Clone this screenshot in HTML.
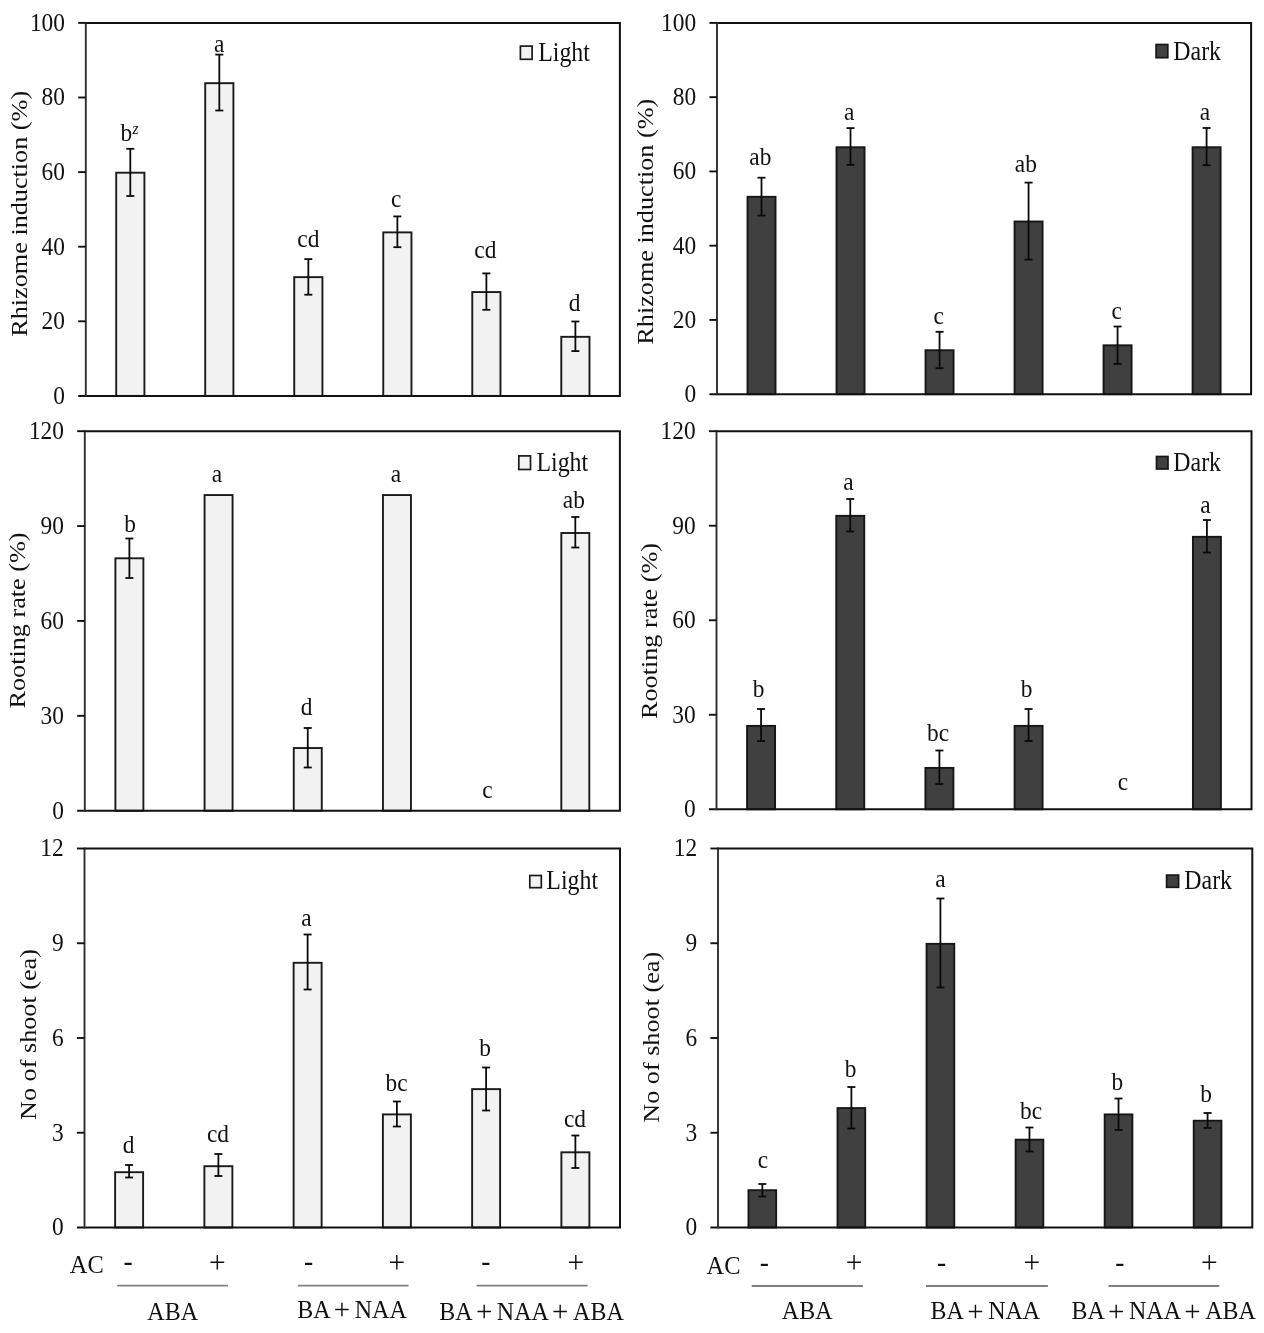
<!DOCTYPE html>
<html lang="en"><head><meta charset="utf-8"><title>Figure</title>
<style>
html,body{margin:0;padding:0;background:#fff;}
body{width:1264px;height:1333px;overflow:hidden;}
svg{display:block;will-change:transform;filter:grayscale(1);}
svg text{font-family:"Liberation Serif", "Times New Roman", serif;fill:#111;}
</style></head><body>
<svg width="1264" height="1333" viewBox="0 0 1264 1333">
<rect x="0" y="0" width="1264" height="1333" fill="#ffffff"/>
<rect x="116.21" y="172.70" width="28.20" height="223.20" fill="#f2f2f2" stroke="#1a1a1a" stroke-width="1.9"/>
<line x1="130.31" y1="148.80" x2="130.31" y2="196.00" stroke="#0a0a0a" stroke-width="1.8"/>
<line x1="126.31" y1="148.80" x2="134.31" y2="148.80" stroke="#0a0a0a" stroke-width="1.8"/>
<line x1="126.31" y1="196.00" x2="134.31" y2="196.00" stroke="#0a0a0a" stroke-width="1.8"/>
<rect x="205.22" y="83.18" width="28.20" height="312.72" fill="#f2f2f2" stroke="#1a1a1a" stroke-width="1.9"/>
<line x1="219.32" y1="54.60" x2="219.32" y2="110.50" stroke="#0a0a0a" stroke-width="1.8"/>
<line x1="215.32" y1="54.60" x2="223.32" y2="54.60" stroke="#0a0a0a" stroke-width="1.8"/>
<line x1="215.32" y1="110.50" x2="223.32" y2="110.50" stroke="#0a0a0a" stroke-width="1.8"/>
<rect x="294.24" y="277.14" width="28.20" height="118.76" fill="#f2f2f2" stroke="#1a1a1a" stroke-width="1.9"/>
<line x1="308.34" y1="259.10" x2="308.34" y2="294.70" stroke="#0a0a0a" stroke-width="1.8"/>
<line x1="304.34" y1="259.10" x2="312.34" y2="259.10" stroke="#0a0a0a" stroke-width="1.8"/>
<line x1="304.34" y1="294.70" x2="312.34" y2="294.70" stroke="#0a0a0a" stroke-width="1.8"/>
<rect x="383.26" y="232.38" width="28.20" height="163.52" fill="#f2f2f2" stroke="#1a1a1a" stroke-width="1.9"/>
<line x1="397.36" y1="216.40" x2="397.36" y2="247.20" stroke="#0a0a0a" stroke-width="1.8"/>
<line x1="393.36" y1="216.40" x2="401.36" y2="216.40" stroke="#0a0a0a" stroke-width="1.8"/>
<line x1="393.36" y1="247.20" x2="401.36" y2="247.20" stroke="#0a0a0a" stroke-width="1.8"/>
<rect x="472.27" y="292.06" width="28.20" height="103.84" fill="#f2f2f2" stroke="#1a1a1a" stroke-width="1.9"/>
<line x1="486.38" y1="273.40" x2="486.38" y2="309.80" stroke="#0a0a0a" stroke-width="1.8"/>
<line x1="482.38" y1="273.40" x2="490.38" y2="273.40" stroke="#0a0a0a" stroke-width="1.8"/>
<line x1="482.38" y1="309.80" x2="490.38" y2="309.80" stroke="#0a0a0a" stroke-width="1.8"/>
<rect x="561.29" y="336.82" width="28.20" height="59.08" fill="#f2f2f2" stroke="#1a1a1a" stroke-width="1.9"/>
<line x1="575.39" y1="321.50" x2="575.39" y2="351.10" stroke="#0a0a0a" stroke-width="1.8"/>
<line x1="571.39" y1="321.50" x2="579.39" y2="321.50" stroke="#0a0a0a" stroke-width="1.8"/>
<line x1="571.39" y1="351.10" x2="579.39" y2="351.10" stroke="#0a0a0a" stroke-width="1.8"/>
<path d="M85.80,22.90 H619.90 V395.90 H78.20" fill="none" stroke="#111" stroke-width="2.0" stroke-linejoin="miter"/>
<line x1="85.80" y1="21.90" x2="85.80" y2="396.90" stroke="#2e2e2e" stroke-width="1.9"/>
<text transform="translate(65.00,403.80) scale(1,1.11)" text-anchor="end" font-size="23.4">0</text>
<line x1="78.20" y1="321.30" x2="85.80" y2="321.30" stroke="#111" stroke-width="1.9"/>
<text transform="translate(65.00,329.20) scale(1,1.11)" text-anchor="end" font-size="23.4">20</text>
<line x1="78.20" y1="246.70" x2="85.80" y2="246.70" stroke="#111" stroke-width="1.9"/>
<text transform="translate(65.00,254.60) scale(1,1.11)" text-anchor="end" font-size="23.4">40</text>
<line x1="78.20" y1="172.10" x2="85.80" y2="172.10" stroke="#111" stroke-width="1.9"/>
<text transform="translate(65.00,180.00) scale(1,1.11)" text-anchor="end" font-size="23.4">60</text>
<line x1="78.20" y1="97.50" x2="85.80" y2="97.50" stroke="#111" stroke-width="1.9"/>
<text transform="translate(65.00,105.40) scale(1,1.11)" text-anchor="end" font-size="23.4">80</text>
<line x1="78.20" y1="22.90" x2="85.80" y2="22.90" stroke="#111" stroke-width="1.9"/>
<text transform="translate(65.00,30.80) scale(1,1.11)" text-anchor="end" font-size="23.4">100</text>
<text transform="translate(27.00,213.80) rotate(-90) scale(1.12,1)" text-anchor="middle" font-size="23.4">Rhizome induction (%)</text>
<rect x="520.40" y="46.10" width="11.70" height="13.20" fill="#f2f2f2" stroke="#1a1a1a" stroke-width="1.7"/>
<text transform="translate(538.20,60.90) scale(1,1.11)" text-anchor="start" font-size="23.9">Light</text>
<text transform="translate(120.40,141.00) scale(1,1.11)" text-anchor="start" font-size="23.4">b<tspan font-size="15.5" font-style="italic" dy="-6.5" dx="0.3">z</tspan></text>
<text transform="translate(219.30,52.00) scale(1,1.11)" text-anchor="middle" font-size="23.4">a</text>
<text transform="translate(308.30,246.50) scale(1,1.11)" text-anchor="middle" font-size="23.4">cd</text>
<text transform="translate(396.20,207.20) scale(1,1.11)" text-anchor="middle" font-size="23.4">c</text>
<text transform="translate(485.30,257.90) scale(1,1.11)" text-anchor="middle" font-size="23.4">cd</text>
<text transform="translate(574.50,311.10) scale(1,1.11)" text-anchor="middle" font-size="23.4">d</text>
<rect x="747.51" y="196.79" width="28.00" height="197.41" fill="#404040" stroke="#161616" stroke-width="1.9"/>
<line x1="761.51" y1="177.70" x2="761.51" y2="215.60" stroke="#0a0a0a" stroke-width="1.8"/>
<line x1="757.51" y1="177.70" x2="765.51" y2="177.70" stroke="#0a0a0a" stroke-width="1.8"/>
<line x1="757.51" y1="215.60" x2="765.51" y2="215.60" stroke="#0a0a0a" stroke-width="1.8"/>
<rect x="836.52" y="147.25" width="28.00" height="246.95" fill="#404040" stroke="#161616" stroke-width="1.9"/>
<line x1="850.52" y1="128.10" x2="850.52" y2="164.90" stroke="#0a0a0a" stroke-width="1.8"/>
<line x1="846.52" y1="128.10" x2="854.52" y2="128.10" stroke="#0a0a0a" stroke-width="1.8"/>
<line x1="846.52" y1="164.90" x2="854.52" y2="164.90" stroke="#0a0a0a" stroke-width="1.8"/>
<rect x="925.54" y="350.24" width="28.00" height="43.96" fill="#404040" stroke="#161616" stroke-width="1.9"/>
<line x1="939.54" y1="331.80" x2="939.54" y2="368.20" stroke="#0a0a0a" stroke-width="1.8"/>
<line x1="935.54" y1="331.80" x2="943.54" y2="331.80" stroke="#0a0a0a" stroke-width="1.8"/>
<line x1="935.54" y1="368.20" x2="943.54" y2="368.20" stroke="#0a0a0a" stroke-width="1.8"/>
<rect x="1014.56" y="221.51" width="28.00" height="172.69" fill="#404040" stroke="#161616" stroke-width="1.9"/>
<line x1="1028.56" y1="182.60" x2="1028.56" y2="259.60" stroke="#0a0a0a" stroke-width="1.8"/>
<line x1="1024.56" y1="182.60" x2="1032.56" y2="182.60" stroke="#0a0a0a" stroke-width="1.8"/>
<line x1="1024.56" y1="259.60" x2="1032.56" y2="259.60" stroke="#0a0a0a" stroke-width="1.8"/>
<rect x="1103.57" y="345.31" width="28.00" height="48.89" fill="#404040" stroke="#161616" stroke-width="1.9"/>
<line x1="1117.57" y1="326.50" x2="1117.57" y2="363.90" stroke="#0a0a0a" stroke-width="1.8"/>
<line x1="1113.57" y1="326.50" x2="1121.57" y2="326.50" stroke="#0a0a0a" stroke-width="1.8"/>
<line x1="1113.57" y1="363.90" x2="1121.57" y2="363.90" stroke="#0a0a0a" stroke-width="1.8"/>
<rect x="1192.59" y="147.25" width="28.00" height="246.95" fill="#404040" stroke="#161616" stroke-width="1.9"/>
<line x1="1206.59" y1="128.00" x2="1206.59" y2="165.20" stroke="#0a0a0a" stroke-width="1.8"/>
<line x1="1202.59" y1="128.00" x2="1210.59" y2="128.00" stroke="#0a0a0a" stroke-width="1.8"/>
<line x1="1202.59" y1="165.20" x2="1210.59" y2="165.20" stroke="#0a0a0a" stroke-width="1.8"/>
<path d="M717.00,22.90 H1251.10 V394.20 H709.40" fill="none" stroke="#111" stroke-width="2.0" stroke-linejoin="miter"/>
<line x1="717.00" y1="21.90" x2="717.00" y2="395.20" stroke="#2e2e2e" stroke-width="1.9"/>
<text transform="translate(696.20,402.10) scale(1,1.11)" text-anchor="end" font-size="23.4">0</text>
<line x1="709.40" y1="319.94" x2="717.00" y2="319.94" stroke="#111" stroke-width="1.9"/>
<text transform="translate(696.20,327.84) scale(1,1.11)" text-anchor="end" font-size="23.4">20</text>
<line x1="709.40" y1="245.68" x2="717.00" y2="245.68" stroke="#111" stroke-width="1.9"/>
<text transform="translate(696.20,253.58) scale(1,1.11)" text-anchor="end" font-size="23.4">40</text>
<line x1="709.40" y1="171.42" x2="717.00" y2="171.42" stroke="#111" stroke-width="1.9"/>
<text transform="translate(696.20,179.32) scale(1,1.11)" text-anchor="end" font-size="23.4">60</text>
<line x1="709.40" y1="97.16" x2="717.00" y2="97.16" stroke="#111" stroke-width="1.9"/>
<text transform="translate(696.20,105.06) scale(1,1.11)" text-anchor="end" font-size="23.4">80</text>
<line x1="709.40" y1="22.90" x2="717.00" y2="22.90" stroke="#111" stroke-width="1.9"/>
<text transform="translate(696.20,30.80) scale(1,1.11)" text-anchor="end" font-size="23.4">100</text>
<text transform="translate(653.00,221.70) rotate(-90) scale(1.12,1)" text-anchor="middle" font-size="23.4">Rhizome induction (%)</text>
<rect x="1156.10" y="44.50" width="11.70" height="13.20" fill="#404040" stroke="#161616" stroke-width="1.7"/>
<text transform="translate(1173.30,59.50) scale(1,1.11)" text-anchor="start" font-size="23.9">Dark</text>
<text transform="translate(760.30,164.70) scale(1,1.11)" text-anchor="middle" font-size="23.4">ab</text>
<text transform="translate(849.20,120.00) scale(1,1.11)" text-anchor="middle" font-size="23.4">a</text>
<text transform="translate(938.60,323.70) scale(1,1.11)" text-anchor="middle" font-size="23.4">c</text>
<text transform="translate(1025.80,171.80) scale(1,1.11)" text-anchor="middle" font-size="23.4">ab</text>
<text transform="translate(1116.80,318.80) scale(1,1.11)" text-anchor="middle" font-size="23.4">c</text>
<text transform="translate(1205.00,120.30) scale(1,1.11)" text-anchor="middle" font-size="23.4">a</text>
<rect x="115.39" y="558.30" width="28.00" height="252.40" fill="#f2f2f2" stroke="#1a1a1a" stroke-width="1.9"/>
<line x1="129.39" y1="538.50" x2="129.39" y2="578.00" stroke="#0a0a0a" stroke-width="1.8"/>
<line x1="125.39" y1="538.50" x2="133.39" y2="538.50" stroke="#0a0a0a" stroke-width="1.8"/>
<line x1="125.39" y1="578.00" x2="133.39" y2="578.00" stroke="#0a0a0a" stroke-width="1.8"/>
<rect x="204.57" y="495.05" width="28.00" height="315.65" fill="#f2f2f2" stroke="#1a1a1a" stroke-width="1.9"/>
<rect x="293.76" y="748.05" width="28.00" height="62.65" fill="#f2f2f2" stroke="#1a1a1a" stroke-width="1.9"/>
<line x1="307.76" y1="728.00" x2="307.76" y2="767.50" stroke="#0a0a0a" stroke-width="1.8"/>
<line x1="303.76" y1="728.00" x2="311.76" y2="728.00" stroke="#0a0a0a" stroke-width="1.8"/>
<line x1="303.76" y1="767.50" x2="311.76" y2="767.50" stroke="#0a0a0a" stroke-width="1.8"/>
<rect x="382.94" y="495.05" width="28.00" height="315.65" fill="#f2f2f2" stroke="#1a1a1a" stroke-width="1.9"/>
<rect x="561.31" y="533.00" width="28.00" height="277.70" fill="#f2f2f2" stroke="#1a1a1a" stroke-width="1.9"/>
<line x1="575.31" y1="517.00" x2="575.31" y2="547.50" stroke="#0a0a0a" stroke-width="1.8"/>
<line x1="571.31" y1="517.00" x2="579.31" y2="517.00" stroke="#0a0a0a" stroke-width="1.8"/>
<line x1="571.31" y1="547.50" x2="579.31" y2="547.50" stroke="#0a0a0a" stroke-width="1.8"/>
<path d="M84.80,431.20 H619.90 V810.70 H77.20" fill="none" stroke="#111" stroke-width="2.0" stroke-linejoin="miter"/>
<line x1="84.80" y1="430.20" x2="84.80" y2="811.70" stroke="#2e2e2e" stroke-width="1.9"/>
<text transform="translate(64.00,818.60) scale(1,1.11)" text-anchor="end" font-size="23.4">0</text>
<line x1="77.20" y1="715.83" x2="84.80" y2="715.83" stroke="#111" stroke-width="1.9"/>
<text transform="translate(64.00,723.73) scale(1,1.11)" text-anchor="end" font-size="23.4">30</text>
<line x1="77.20" y1="620.95" x2="84.80" y2="620.95" stroke="#111" stroke-width="1.9"/>
<text transform="translate(64.00,628.85) scale(1,1.11)" text-anchor="end" font-size="23.4">60</text>
<line x1="77.20" y1="526.08" x2="84.80" y2="526.08" stroke="#111" stroke-width="1.9"/>
<text transform="translate(64.00,533.98) scale(1,1.11)" text-anchor="end" font-size="23.4">90</text>
<line x1="77.20" y1="431.20" x2="84.80" y2="431.20" stroke="#111" stroke-width="1.9"/>
<text transform="translate(64.00,439.10) scale(1,1.11)" text-anchor="end" font-size="23.4">120</text>
<text transform="translate(25.30,620.50) rotate(-90) scale(1.12,1)" text-anchor="middle" font-size="23.4">Rooting rate (%)</text>
<rect x="518.80" y="455.90" width="11.70" height="13.60" fill="#f2f2f2" stroke="#1a1a1a" stroke-width="1.7"/>
<text transform="translate(536.40,470.90) scale(1,1.11)" text-anchor="start" font-size="23.9">Light</text>
<text transform="translate(130.20,531.90) scale(1,1.11)" text-anchor="middle" font-size="23.4">b</text>
<text transform="translate(217.00,481.50) scale(1,1.11)" text-anchor="middle" font-size="23.4">a</text>
<text transform="translate(306.50,715.00) scale(1,1.11)" text-anchor="middle" font-size="23.4">d</text>
<text transform="translate(396.00,481.50) scale(1,1.11)" text-anchor="middle" font-size="23.4">a</text>
<text transform="translate(487.50,797.50) scale(1,1.11)" text-anchor="middle" font-size="23.4">c</text>
<text transform="translate(573.80,508.20) scale(1,1.11)" text-anchor="middle" font-size="23.4">ab</text>
<rect x="747.08" y="725.87" width="28.00" height="83.43" fill="#404040" stroke="#161616" stroke-width="1.9"/>
<line x1="761.08" y1="709.00" x2="761.08" y2="741.00" stroke="#0a0a0a" stroke-width="1.8"/>
<line x1="757.08" y1="709.00" x2="765.08" y2="709.00" stroke="#0a0a0a" stroke-width="1.8"/>
<line x1="757.08" y1="741.00" x2="765.08" y2="741.00" stroke="#0a0a0a" stroke-width="1.8"/>
<rect x="836.25" y="515.83" width="28.00" height="293.47" fill="#404040" stroke="#161616" stroke-width="1.9"/>
<line x1="850.25" y1="499.00" x2="850.25" y2="531.50" stroke="#0a0a0a" stroke-width="1.8"/>
<line x1="846.25" y1="499.00" x2="854.25" y2="499.00" stroke="#0a0a0a" stroke-width="1.8"/>
<line x1="846.25" y1="531.50" x2="854.25" y2="531.50" stroke="#0a0a0a" stroke-width="1.8"/>
<rect x="925.42" y="767.90" width="28.00" height="41.40" fill="#404040" stroke="#161616" stroke-width="1.9"/>
<line x1="939.42" y1="750.50" x2="939.42" y2="784.00" stroke="#0a0a0a" stroke-width="1.8"/>
<line x1="935.42" y1="750.50" x2="943.42" y2="750.50" stroke="#0a0a0a" stroke-width="1.8"/>
<line x1="935.42" y1="784.00" x2="943.42" y2="784.00" stroke="#0a0a0a" stroke-width="1.8"/>
<rect x="1014.58" y="725.87" width="28.00" height="83.43" fill="#404040" stroke="#161616" stroke-width="1.9"/>
<line x1="1028.58" y1="709.00" x2="1028.58" y2="741.00" stroke="#0a0a0a" stroke-width="1.8"/>
<line x1="1024.58" y1="709.00" x2="1032.58" y2="709.00" stroke="#0a0a0a" stroke-width="1.8"/>
<line x1="1024.58" y1="741.00" x2="1032.58" y2="741.00" stroke="#0a0a0a" stroke-width="1.8"/>
<rect x="1192.92" y="536.82" width="28.00" height="272.48" fill="#404040" stroke="#161616" stroke-width="1.9"/>
<line x1="1206.92" y1="520.00" x2="1206.92" y2="552.50" stroke="#0a0a0a" stroke-width="1.8"/>
<line x1="1202.92" y1="520.00" x2="1210.92" y2="520.00" stroke="#0a0a0a" stroke-width="1.8"/>
<line x1="1202.92" y1="552.50" x2="1210.92" y2="552.50" stroke="#0a0a0a" stroke-width="1.8"/>
<path d="M716.50,431.20 H1251.50 V809.30 H708.90" fill="none" stroke="#111" stroke-width="2.0" stroke-linejoin="miter"/>
<line x1="716.50" y1="430.20" x2="716.50" y2="810.30" stroke="#2e2e2e" stroke-width="1.9"/>
<text transform="translate(695.70,817.20) scale(1,1.11)" text-anchor="end" font-size="23.4">0</text>
<line x1="708.90" y1="714.77" x2="716.50" y2="714.77" stroke="#111" stroke-width="1.9"/>
<text transform="translate(695.70,722.67) scale(1,1.11)" text-anchor="end" font-size="23.4">30</text>
<line x1="708.90" y1="620.25" x2="716.50" y2="620.25" stroke="#111" stroke-width="1.9"/>
<text transform="translate(695.70,628.15) scale(1,1.11)" text-anchor="end" font-size="23.4">60</text>
<line x1="708.90" y1="525.72" x2="716.50" y2="525.72" stroke="#111" stroke-width="1.9"/>
<text transform="translate(695.70,533.62) scale(1,1.11)" text-anchor="end" font-size="23.4">90</text>
<line x1="708.90" y1="431.20" x2="716.50" y2="431.20" stroke="#111" stroke-width="1.9"/>
<text transform="translate(695.70,439.10) scale(1,1.11)" text-anchor="end" font-size="23.4">120</text>
<text transform="translate(656.90,631.00) rotate(-90) scale(1.12,1)" text-anchor="middle" font-size="23.4">Rooting rate (%)</text>
<rect x="1156.50" y="456.50" width="11.50" height="12.50" fill="#404040" stroke="#161616" stroke-width="1.7"/>
<text transform="translate(1173.30,470.70) scale(1,1.11)" text-anchor="start" font-size="23.9">Dark</text>
<text transform="translate(758.50,697.00) scale(1,1.11)" text-anchor="middle" font-size="23.4">b</text>
<text transform="translate(848.50,489.50) scale(1,1.11)" text-anchor="middle" font-size="23.4">a</text>
<text transform="translate(938.00,740.50) scale(1,1.11)" text-anchor="middle" font-size="23.4">bc</text>
<text transform="translate(1026.50,697.00) scale(1,1.11)" text-anchor="middle" font-size="23.4">b</text>
<text transform="translate(1123.00,789.50) scale(1,1.11)" text-anchor="middle" font-size="23.4">c</text>
<text transform="translate(1205.50,513.00) scale(1,1.11)" text-anchor="middle" font-size="23.4">a</text>
<rect x="115.12" y="1172.20" width="28.00" height="55.30" fill="#f2f2f2" stroke="#1a1a1a" stroke-width="1.9"/>
<line x1="129.12" y1="1165.00" x2="129.12" y2="1177.50" stroke="#0a0a0a" stroke-width="1.8"/>
<line x1="125.12" y1="1165.00" x2="133.12" y2="1165.00" stroke="#0a0a0a" stroke-width="1.8"/>
<line x1="125.12" y1="1177.50" x2="133.12" y2="1177.50" stroke="#0a0a0a" stroke-width="1.8"/>
<rect x="204.38" y="1166.20" width="28.00" height="61.30" fill="#f2f2f2" stroke="#1a1a1a" stroke-width="1.9"/>
<line x1="218.38" y1="1154.00" x2="218.38" y2="1176.00" stroke="#0a0a0a" stroke-width="1.8"/>
<line x1="214.38" y1="1154.00" x2="222.38" y2="1154.00" stroke="#0a0a0a" stroke-width="1.8"/>
<line x1="214.38" y1="1176.00" x2="222.38" y2="1176.00" stroke="#0a0a0a" stroke-width="1.8"/>
<rect x="293.62" y="962.80" width="28.00" height="264.70" fill="#f2f2f2" stroke="#1a1a1a" stroke-width="1.9"/>
<line x1="307.62" y1="934.50" x2="307.62" y2="989.50" stroke="#0a0a0a" stroke-width="1.8"/>
<line x1="303.62" y1="934.50" x2="311.62" y2="934.50" stroke="#0a0a0a" stroke-width="1.8"/>
<line x1="303.62" y1="989.50" x2="311.62" y2="989.50" stroke="#0a0a0a" stroke-width="1.8"/>
<rect x="382.88" y="1114.40" width="28.00" height="113.10" fill="#f2f2f2" stroke="#1a1a1a" stroke-width="1.9"/>
<line x1="396.88" y1="1101.50" x2="396.88" y2="1126.50" stroke="#0a0a0a" stroke-width="1.8"/>
<line x1="392.88" y1="1101.50" x2="400.88" y2="1101.50" stroke="#0a0a0a" stroke-width="1.8"/>
<line x1="392.88" y1="1126.50" x2="400.88" y2="1126.50" stroke="#0a0a0a" stroke-width="1.8"/>
<rect x="472.12" y="1089.13" width="28.00" height="138.37" fill="#f2f2f2" stroke="#1a1a1a" stroke-width="1.9"/>
<line x1="486.12" y1="1067.50" x2="486.12" y2="1110.50" stroke="#0a0a0a" stroke-width="1.8"/>
<line x1="482.12" y1="1067.50" x2="490.12" y2="1067.50" stroke="#0a0a0a" stroke-width="1.8"/>
<line x1="482.12" y1="1110.50" x2="490.12" y2="1110.50" stroke="#0a0a0a" stroke-width="1.8"/>
<rect x="561.38" y="1152.30" width="28.00" height="75.20" fill="#f2f2f2" stroke="#1a1a1a" stroke-width="1.9"/>
<line x1="575.38" y1="1135.50" x2="575.38" y2="1168.00" stroke="#0a0a0a" stroke-width="1.8"/>
<line x1="571.38" y1="1135.50" x2="579.38" y2="1135.50" stroke="#0a0a0a" stroke-width="1.8"/>
<line x1="571.38" y1="1168.00" x2="579.38" y2="1168.00" stroke="#0a0a0a" stroke-width="1.8"/>
<path d="M84.50,848.50 H620.00 V1227.50 H76.90" fill="none" stroke="#111" stroke-width="2.0" stroke-linejoin="miter"/>
<line x1="84.50" y1="847.50" x2="84.50" y2="1228.50" stroke="#2e2e2e" stroke-width="1.9"/>
<text transform="translate(63.70,1235.40) scale(1,1.11)" text-anchor="end" font-size="23.4">0</text>
<line x1="76.90" y1="1132.75" x2="84.50" y2="1132.75" stroke="#111" stroke-width="1.9"/>
<text transform="translate(63.70,1140.65) scale(1,1.11)" text-anchor="end" font-size="23.4">3</text>
<line x1="76.90" y1="1038.00" x2="84.50" y2="1038.00" stroke="#111" stroke-width="1.9"/>
<text transform="translate(63.70,1045.90) scale(1,1.11)" text-anchor="end" font-size="23.4">6</text>
<line x1="76.90" y1="943.25" x2="84.50" y2="943.25" stroke="#111" stroke-width="1.9"/>
<text transform="translate(63.70,951.15) scale(1,1.11)" text-anchor="end" font-size="23.4">9</text>
<line x1="76.90" y1="848.50" x2="84.50" y2="848.50" stroke="#111" stroke-width="1.9"/>
<text transform="translate(63.70,856.40) scale(1,1.11)" text-anchor="end" font-size="23.4">12</text>
<text transform="translate(36.00,1034.50) rotate(-90) scale(1.12,1)" text-anchor="middle" font-size="23.4">No of shoot (ea)</text>
<rect x="529.80" y="875.50" width="11.50" height="12.20" fill="#f2f2f2" stroke="#1a1a1a" stroke-width="1.7"/>
<text transform="translate(546.30,888.60) scale(1,1.11)" text-anchor="start" font-size="23.9">Light</text>
<text transform="translate(128.50,1153.30) scale(1,1.11)" text-anchor="middle" font-size="23.4">d</text>
<text transform="translate(218.00,1142.30) scale(1,1.11)" text-anchor="middle" font-size="23.4">cd</text>
<text transform="translate(306.50,925.80) scale(1,1.11)" text-anchor="middle" font-size="23.4">a</text>
<text transform="translate(396.50,1090.80) scale(1,1.11)" text-anchor="middle" font-size="23.4">bc</text>
<text transform="translate(485.00,1055.80) scale(1,1.11)" text-anchor="middle" font-size="23.4">b</text>
<text transform="translate(575.00,1127.30) scale(1,1.11)" text-anchor="middle" font-size="23.4">cd</text>
<text transform="translate(69.80,1272.50) scale(1,1.05)" text-anchor="start" font-size="24.4">AC</text>
<text transform="translate(128.10,1271.30) scale(1,1.07)" text-anchor="middle" font-size="27.5" fill="#222">-</text>
<text transform="translate(217.30,1272.90) scale(1,1.07)" text-anchor="middle" font-size="29.5" fill="#2a2a2a">+</text>
<text transform="translate(308.60,1271.30) scale(1,1.07)" text-anchor="middle" font-size="27.5" fill="#222">-</text>
<text transform="translate(396.80,1272.90) scale(1,1.07)" text-anchor="middle" font-size="29.5" fill="#2a2a2a">+</text>
<text transform="translate(485.80,1271.30) scale(1,1.07)" text-anchor="middle" font-size="27.5" fill="#222">-</text>
<text transform="translate(575.90,1272.90) scale(1,1.07)" text-anchor="middle" font-size="29.5" fill="#2a2a2a">+</text>
<line x1="117.20" y1="1285.70" x2="227.90" y2="1285.70" stroke="#808080" stroke-width="1.8"/>
<line x1="297.90" y1="1285.70" x2="408.50" y2="1285.70" stroke="#808080" stroke-width="1.8"/>
<line x1="476.50" y1="1285.70" x2="587.60" y2="1285.70" stroke="#808080" stroke-width="1.8"/>
<text transform="translate(172.70,1320.00) scale(1,1.03)" text-anchor="middle" font-size="24.0">ABA</text>
<text transform="translate(352.00,1317.60) scale(1,1.03)" text-anchor="middle" font-size="24.0">BA <tspan font-size="29" dx="-1.4" dy="1.4">+</tspan><tspan dx="-1.4" dy="-1.4"> </tspan>NAA</text>
<text transform="translate(531.50,1319.60) scale(1,1.03)" text-anchor="middle" font-size="24.0">BA <tspan font-size="29" dx="-1.4" dy="1.4">+</tspan><tspan dx="-1.4" dy="-1.4"> </tspan>NAA <tspan font-size="29" dx="-1.4" dy="1.4">+</tspan><tspan dx="-1.4" dy="-1.4"> </tspan>ABA</text>
<rect x="748.47" y="1190.20" width="27.70" height="37.30" fill="#404040" stroke="#161616" stroke-width="1.9"/>
<line x1="762.32" y1="1184.00" x2="762.32" y2="1196.50" stroke="#0a0a0a" stroke-width="1.8"/>
<line x1="758.32" y1="1184.00" x2="766.32" y2="1184.00" stroke="#0a0a0a" stroke-width="1.8"/>
<line x1="758.32" y1="1196.50" x2="766.32" y2="1196.50" stroke="#0a0a0a" stroke-width="1.8"/>
<rect x="837.52" y="1108.08" width="27.70" height="119.42" fill="#404040" stroke="#161616" stroke-width="1.9"/>
<line x1="851.38" y1="1087.00" x2="851.38" y2="1128.50" stroke="#0a0a0a" stroke-width="1.8"/>
<line x1="847.38" y1="1087.00" x2="855.38" y2="1087.00" stroke="#0a0a0a" stroke-width="1.8"/>
<line x1="847.38" y1="1128.50" x2="855.38" y2="1128.50" stroke="#0a0a0a" stroke-width="1.8"/>
<rect x="926.57" y="943.85" width="27.70" height="283.65" fill="#404040" stroke="#161616" stroke-width="1.9"/>
<line x1="940.42" y1="898.50" x2="940.42" y2="987.50" stroke="#0a0a0a" stroke-width="1.8"/>
<line x1="936.42" y1="898.50" x2="944.42" y2="898.50" stroke="#0a0a0a" stroke-width="1.8"/>
<line x1="936.42" y1="987.50" x2="944.42" y2="987.50" stroke="#0a0a0a" stroke-width="1.8"/>
<rect x="1015.62" y="1139.67" width="27.70" height="87.83" fill="#404040" stroke="#161616" stroke-width="1.9"/>
<line x1="1029.47" y1="1127.50" x2="1029.47" y2="1151.50" stroke="#0a0a0a" stroke-width="1.8"/>
<line x1="1025.47" y1="1127.50" x2="1033.47" y2="1127.50" stroke="#0a0a0a" stroke-width="1.8"/>
<line x1="1025.47" y1="1151.50" x2="1033.47" y2="1151.50" stroke="#0a0a0a" stroke-width="1.8"/>
<rect x="1104.67" y="1114.40" width="27.70" height="113.10" fill="#404040" stroke="#161616" stroke-width="1.9"/>
<line x1="1118.52" y1="1098.50" x2="1118.52" y2="1130.00" stroke="#0a0a0a" stroke-width="1.8"/>
<line x1="1114.52" y1="1098.50" x2="1122.52" y2="1098.50" stroke="#0a0a0a" stroke-width="1.8"/>
<line x1="1114.52" y1="1130.00" x2="1122.52" y2="1130.00" stroke="#0a0a0a" stroke-width="1.8"/>
<rect x="1193.73" y="1120.72" width="27.70" height="106.78" fill="#404040" stroke="#161616" stroke-width="1.9"/>
<line x1="1207.58" y1="1113.00" x2="1207.58" y2="1128.00" stroke="#0a0a0a" stroke-width="1.8"/>
<line x1="1203.58" y1="1113.00" x2="1211.58" y2="1113.00" stroke="#0a0a0a" stroke-width="1.8"/>
<line x1="1203.58" y1="1128.00" x2="1211.58" y2="1128.00" stroke="#0a0a0a" stroke-width="1.8"/>
<path d="M718.00,848.50 H1252.30 V1227.50 H710.40" fill="none" stroke="#111" stroke-width="2.0" stroke-linejoin="miter"/>
<line x1="718.00" y1="847.50" x2="718.00" y2="1228.50" stroke="#2e2e2e" stroke-width="1.9"/>
<text transform="translate(697.20,1235.40) scale(1,1.11)" text-anchor="end" font-size="23.4">0</text>
<line x1="710.40" y1="1132.75" x2="718.00" y2="1132.75" stroke="#111" stroke-width="1.9"/>
<text transform="translate(697.20,1140.65) scale(1,1.11)" text-anchor="end" font-size="23.4">3</text>
<line x1="710.40" y1="1038.00" x2="718.00" y2="1038.00" stroke="#111" stroke-width="1.9"/>
<text transform="translate(697.20,1045.90) scale(1,1.11)" text-anchor="end" font-size="23.4">6</text>
<line x1="710.40" y1="943.25" x2="718.00" y2="943.25" stroke="#111" stroke-width="1.9"/>
<text transform="translate(697.20,951.15) scale(1,1.11)" text-anchor="end" font-size="23.4">9</text>
<line x1="710.40" y1="848.50" x2="718.00" y2="848.50" stroke="#111" stroke-width="1.9"/>
<text transform="translate(697.20,856.40) scale(1,1.11)" text-anchor="end" font-size="23.4">12</text>
<text transform="translate(658.50,1037.30) rotate(-90) scale(1.12,1)" text-anchor="middle" font-size="23.4">No of shoot (ea)</text>
<rect x="1166.60" y="875.10" width="12.00" height="12.20" fill="#404040" stroke="#161616" stroke-width="1.7"/>
<text transform="translate(1184.30,888.70) scale(1,1.11)" text-anchor="start" font-size="23.9">Dark</text>
<text transform="translate(763.00,1168.40) scale(1,1.11)" text-anchor="middle" font-size="23.4">c</text>
<text transform="translate(850.50,1076.90) scale(1,1.11)" text-anchor="middle" font-size="23.4">b</text>
<text transform="translate(940.50,887.40) scale(1,1.11)" text-anchor="middle" font-size="23.4">a</text>
<text transform="translate(1031.00,1118.80) scale(1,1.11)" text-anchor="middle" font-size="23.4">bc</text>
<text transform="translate(1117.30,1089.80) scale(1,1.11)" text-anchor="middle" font-size="23.4">b</text>
<text transform="translate(1206.20,1102.30) scale(1,1.11)" text-anchor="middle" font-size="23.4">b</text>
<text transform="translate(706.60,1274.20) scale(1,1.05)" text-anchor="start" font-size="24.4">AC</text>
<text transform="translate(764.40,1271.50) scale(1,1.07)" text-anchor="middle" font-size="27.5" fill="#222">-</text>
<text transform="translate(854.00,1273.10) scale(1,1.07)" text-anchor="middle" font-size="29.5" fill="#2a2a2a">+</text>
<text transform="translate(941.50,1271.50) scale(1,1.07)" text-anchor="middle" font-size="27.5" fill="#222">-</text>
<text transform="translate(1031.80,1273.10) scale(1,1.07)" text-anchor="middle" font-size="29.5" fill="#2a2a2a">+</text>
<text transform="translate(1119.90,1271.50) scale(1,1.07)" text-anchor="middle" font-size="27.5" fill="#222">-</text>
<text transform="translate(1209.30,1273.10) scale(1,1.07)" text-anchor="middle" font-size="29.5" fill="#2a2a2a">+</text>
<line x1="751.80" y1="1286.00" x2="862.90" y2="1286.00" stroke="#808080" stroke-width="1.8"/>
<line x1="926.00" y1="1286.00" x2="1047.90" y2="1286.00" stroke="#808080" stroke-width="1.8"/>
<line x1="1108.50" y1="1286.00" x2="1219.40" y2="1286.00" stroke="#808080" stroke-width="1.8"/>
<text transform="translate(807.20,1319.30) scale(1,1.03)" text-anchor="middle" font-size="24.0">ABA</text>
<text transform="translate(985.40,1319.30) scale(1,1.03)" text-anchor="middle" font-size="24.0">BA <tspan font-size="29" dx="-1.4" dy="1.4">+</tspan><tspan dx="-1.4" dy="-1.4"> </tspan>NAA</text>
<text transform="translate(1163.70,1319.30) scale(1,1.03)" text-anchor="middle" font-size="24.0">BA <tspan font-size="29" dx="-1.4" dy="1.4">+</tspan><tspan dx="-1.4" dy="-1.4"> </tspan>NAA <tspan font-size="29" dx="-1.4" dy="1.4">+</tspan><tspan dx="-1.4" dy="-1.4"> </tspan>ABA</text>
</svg>
</body></html>
